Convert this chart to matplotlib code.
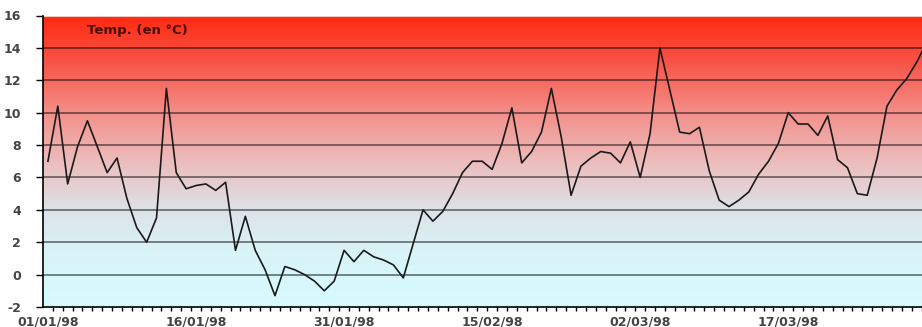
import numpy as np
import matplotlib
matplotlib.use('Agg')
import matplotlib.pyplot as plt
from matplotlib.colors import LinearSegmentedColormap

# daily temperatures, 01/01/98 -> 31/03/98
temps = [7.0, 10.4, 5.6, 7.9, 9.5, 7.9, 6.3, 7.2, 4.7, 2.9,
         2.0, 3.5, 11.5, 6.3, 5.3, 5.5, 5.6, 5.2, 5.7, 1.5,
         3.6, 1.5, 0.3, -1.3, 0.5, 0.3, 0.0, -0.4, -1.0, -0.4,
         1.5, 0.8, 1.5, 1.1, 0.9, 0.6, -0.2, 1.9, 4.0, 3.3,
         3.9, 5.0, 6.3, 7.0, 7.0, 6.5, 8.1, 10.3, 6.9, 7.6,
         8.8, 11.5, 8.5, 4.9, 6.7, 7.2, 7.6, 7.5, 6.9, 8.2,
         6.0, 8.7, 14.0, 11.4, 8.8, 8.7, 9.1, 6.4, 4.6, 4.2,
         4.6, 5.1, 6.2, 7.0, 8.1, 10.0, 9.3, 9.3, 8.6, 9.8,
         7.1, 6.6, 5.0, 4.9, 7.2, 10.4, 11.4, 12.1, 13.1, 14.3]
tick_days = [0, 15, 30, 45, 60, 75]
tick_labels = ['01/01/98', '16/01/98', '31/01/98', '15/02/98', '02/03/98', '17/03/98']
y_ticks = list(range(-2, 17, 2))

days = np.arange(len(temps))

fig = plt.figure(figsize=(9.22, 3.27), dpi=100)
ax = fig.add_axes([43 / 922, 1 - 307 / 327, 1 - 43 / 922, 291.5 / 327])

xmin, xmax = -0.5, 88.55
ymin, ymax = -2, 16

# background gradient, cyan at the bottom to red at the top
cmap = LinearSegmentedColormap.from_list('bg', [
    (0.0, '#d6fbff'), (0.17, '#d8f5f9'), (0.33, '#dde3e8'),
    (0.5, '#ecbcbc'), (0.67, '#f38e88'), (0.83, '#f8574a'), (1.0, '#ff2810')])
grad = np.linspace(0, 1, 256).reshape(-1, 1)
ax.imshow(grad, aspect='auto', cmap=cmap, origin='lower',
          extent=[xmin, xmax, ymin, ymax], zorder=0)

for v in y_ticks[1:-1]:
    ax.axhline(v, color='black', alpha=0.55, lw=1.2, zorder=1)
ax.axhline(16, color='#f0c8c0', lw=0.8, zorder=1)

ax.plot(days, temps, color='#1a1a1a', lw=1.2, zorder=3)

ax.set_xlim(xmin, xmax)
ax.set_ylim(ymin, ymax)

ax.set_yticks(y_ticks)
ax.set_yticklabels([str(v) for v in y_ticks])
ax.set_xticks(tick_days)
ax.set_xticklabels(tick_labels)
ax.set_xticks(days[:-1] + 0.5, minor=True)
ax.tick_params(axis='x', which='major', length=0, pad=6)
ax.tick_params(axis='x', which='minor', direction='out', length=3, width=1)
ax.tick_params(axis='y', direction='out', length=5, width=1, pad=11)
for lbl in ax.get_xticklabels() + ax.get_yticklabels():
    lbl.set_fontweight('bold')
    lbl.set_fontsize(9)
    lbl.set_color('#444444')

for s in ['top', 'right']:
    ax.spines[s].set_visible(False)
ax.spines['left'].set_linewidth(1.2)
ax.spines['bottom'].set_linewidth(1.2)

ax.text(4.0, 15.05, 'Temp. (en °C)', fontsize=9.5, fontweight='bold',
        color='#4a1008', va='center', ha='left', zorder=4)

fig.savefig('out.png', dpi=100)
